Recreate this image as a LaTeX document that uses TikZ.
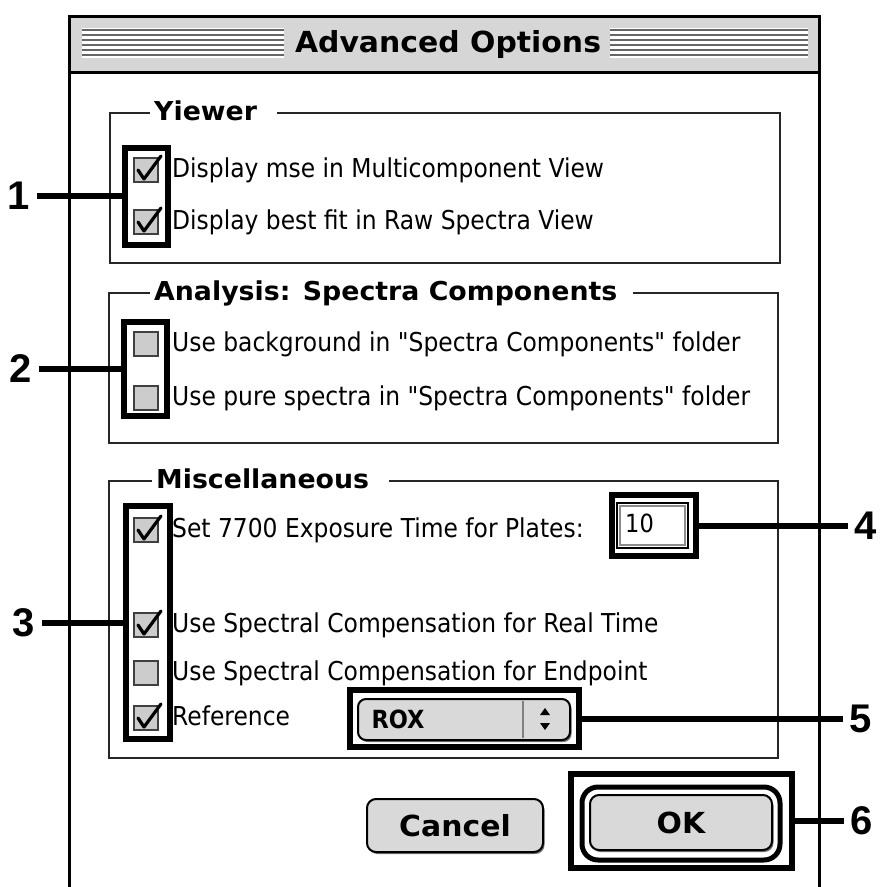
\documentclass[tikz,border=0pt]{standalone}
\usepackage{fontspec}
\setmainfont{DejaVu Sans}
\newfontfamily\itemfont[FakeStretch=0.9]{DejaVu Sans}
\newfontfamily\headfont[FakeStretch=1.03]{DejaVu Sans}
\newfontfamily\numfont{Liberation Sans}
\usepackage{xcolor}
\usetikzlibrary{shadows}

\begin{document}
\begin{tikzpicture}[x=1pt, y=-1pt,
  hlbox/.style={draw=black, line width=6pt, inner sep=0pt},
  callout/.style={draw=black, line width=6pt},
  num/.style={font=\numfont\bfseries\fontsize{40}{40}\selectfont, inner sep=7pt},
  chk/.style={draw=black!75, fill=black!20, line width=1.5pt, minimum size=24pt, inner sep=0pt},
  tick/.style={draw=black, line width=3.2pt, line cap=round, line join=round},
  item/.style={font=\itemfont\fontsize{26}{26}\selectfont, anchor=west, inner sep=0pt, text height=19pt, text depth=5pt},
  grp/.style={draw=black!85, line width=2pt},
  grptitle/.style={font=\headfont\bfseries\fontsize{26}{26}\selectfont, anchor=west, fill=white, inner xsep=4pt, inner ysep=2pt, text height=19pt, text depth=5pt},
  btn/.style={draw=black, line width=2pt, fill=black!15, rounded corners=9pt, inner sep=0pt, drop shadow={shadow xshift=1.5pt, shadow yshift=-2pt, fill=black!55, opacity=1}}
]
  % page and window frame
  \useasboundingbox (0,0) rectangle (880,887);
  \fill[white] (0,0) rectangle (880,887);
  \fill[black!16] (69,16) rectangle (819,72);
  \draw[line width=3pt] (69,887) -- (69,16) -- (819,16) -- (819,887);
  \draw[line width=3pt] (69,72) -- (819,72);

  % title bar stripes
  \fill[white] (82,28) rectangle (284,58);
  \fill[white] (610,28) rectangle (808,58);
  \foreach \y in {30,35,...,55} {
    \draw[black!60, line width=2pt] (82,\y) -- (284,\y);
    \draw[black!60, line width=2pt] (610,\y) -- (808,\y);
  }
  \node[font=\headfont\bfseries\fontsize{29}{29}\selectfont] (title) at (448,44) {Advanced Options};

  % group boxes
  \draw[grp] (110,113) rectangle (780,263);
  \node[grptitle] (gview) at (150,113) {Yiewer\kern16pt};
  \draw[grp] (109,293) rectangle (778,443);
  \node[grptitle] (gana) at (150,293) {Analysis: Spectra Components\kern12pt};
  \draw[grp] (109,481) rectangle (778,758);
  \node[grptitle] (gmisc) at (152,481) {Miscellaneous\kern16pt};

  % check boxes
  \foreach \n/\y in {cv1/170, cv2/222, ca1/344, ca2/398, cm1/530, cm2/625, cm3/673, cm4/718}
    \node[chk] (\n) at (146,\y) {};
  \foreach \n in {cv1, cv2, cm1, cm2, cm4}
    \draw[tick] ([shift={(-8,0)}]\n.center) -- ([shift={(-2,9)}]\n.center) -- ([shift={(15,-14)}]\n.center);

  \node[item] (tv1) at (172,170) {Display mse in Multicomponent View};
  \node[item] (tv2) at (172,222) {Display best fit in Raw Spectra View};
  \node[item] (ta1) at (172,344) {Use background in "Spectra Components" folder};
  \node[item] (ta2) at (172,398) {Use pure spectra in "Spectra Components" folder};
  \node[item] (tm1) at (172,530) {Set 7700 Exposure Time for Plates:};
  \node[item] (tm2) at (172,625) {Use Spectral Compensation for Real Time};
  \node[item] (tm3) at (172,673) {Use Spectral Compensation for Endpoint};
  \node[item] (tm4) at (172,718) {Reference};

  % exposure field
  \node[draw, line width=2pt, minimum width=71, minimum height=45, inner sep=0pt] (fld) at (652.5,525.5) {};
  \draw[black!45, line width=1.2pt] ([shift={(4,4)}]fld.north west) rectangle ([shift={(-4,-4)}]fld.south east);
  \node[item, font=\itemfont\fontsize{25}{25}\selectfont] (fldval) at (625,525) {10};

  % popup menu
  \node[btn, rounded corners=8pt, minimum width=212, minimum height=41] (pop) at (464,719.5) {};
  \draw[black!50, line width=1.5pt] (523,701) -- (523,738);
  \node[font=\itemfont\bfseries\fontsize{25}{25}\selectfont, anchor=west] (rox) at (368,719) {ROX};
  \fill (540,715) -- (550,715) -- (545,708) -- cycle;
  \fill (540,723) -- (550,723) -- (545,730) -- cycle;

  % buttons
  \node[btn, minimum width=176, minimum height=53, font=\headfont\bfseries\fontsize{29}{29}\selectfont] (cancel) at (455,825.5) {Cancel};
  \node[draw, line width=5pt, rounded corners=16pt, minimum width=198, minimum height=73] (okring) at (681,823.5) {};
  \node[btn, minimum width=182, minimum height=55, font=\headfont\bfseries\fontsize{29}{29}\selectfont] (ok) at (681,822.5) {OK};

  % highlights and callouts
  \node[hlbox, minimum width=43, minimum height=97] (hl1) at (146,196) {};
  \node[hlbox, minimum width=43, minimum height=94] (hl2) at (145.5,369) {};
  \node[hlbox, minimum width=44, minimum height=233] (hl3) at (148,622.5) {};
  \node[hlbox, minimum width=84, minimum height=61] (hl4) at (654,525.5) {};
  \node[hlbox, minimum width=229, minimum height=57] (hl5) at (464.5,718.5) {};
  \node[hlbox, minimum width=221, minimum height=94] (hl6) at (681.5,821) {};

  \node[num] (n1) at (19,196) {1};
  \node[num] (n2) at (21,369) {2};
  \node[num] (n3) at (24,622.5) {3};
  \node[num] (n4) at (866,525.5) {4};
  \node[num] (n5) at (861,718.5) {5};
  \node[num] (n6) at (862,821) {6};

  \draw[callout] (n1) -- (hl1);
  \draw[callout] (n2) -- (hl2);
  \draw[callout] (n3) -- (hl3);
  \draw[callout] (n4) -- (hl4);
  \draw[callout] (n5) -- (hl5);
  \draw[callout] (n6) -- (hl6);
\end{tikzpicture}
\end{document}
